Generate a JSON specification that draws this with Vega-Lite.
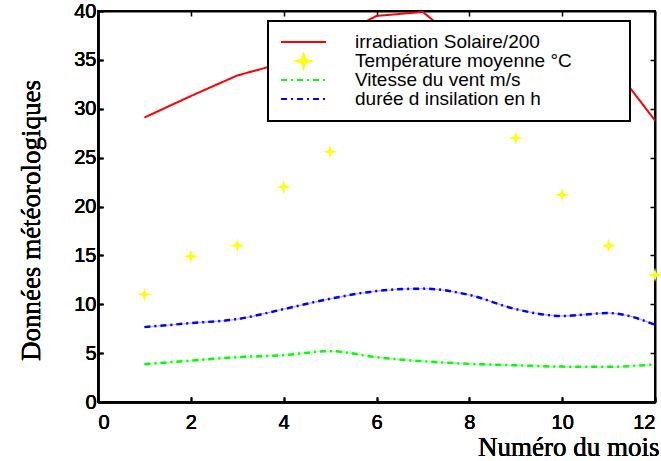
{
  "$schema": "https://vega.github.io/schema/vega-lite/v6.json",
  "width": 557,
  "height": 391,
  "autosize": {"type": "none"},
  "padding": {"left": 98, "top": 11, "right": 6, "bottom": 59},
  "background": "white",
  "config": {
    "view": {"stroke": "black", "strokeWidth": 2},
    "axis": {
      "domainColor": "black", "domainWidth": 2, "tickColor": "black", "tickWidth": 1.5,
      "tickSize": -5, "grid": false,
      "labelFont": "Liberation Sans", "labelFontSize": 20, "labelColor": "black",
      "titleFont": "Liberation Serif", "titleFontSize": 27, "titleFontWeight": "normal", "titleColor": "black"
    },
    "legend": {
      "padding": 12, "strokeColor": "black", "fillColor": "white",
      "symbolSize": 2025, "clipHeight": 18, "rowPadding": 0,
      "symbolStrokeWidth": 2, "labelOffset": 28, "symbolOffset": 0,
      "labelFont": "Liberation Sans", "labelFontSize": 19, "labelColor": "black", "labelLimit": 0,
      "titleOrient": "right", "titlePadding": 46, "titleFontSize": 19, "titleFont": "Liberation Sans"
    }
  },
  "data": {"values": [
    {"mois": 1, "serie": "irradiation Solaire/200", "valeur": 29.1},
    {"mois": 2, "serie": "irradiation Solaire/200", "valeur": 31.3},
    {"mois": 3, "serie": "irradiation Solaire/200", "valeur": 33.4},
    {"mois": 4, "serie": "irradiation Solaire/200", "valeur": 34.7},
    {"mois": 5, "serie": "irradiation Solaire/200", "valeur": 37.0},
    {"mois": 6, "serie": "irradiation Solaire/200", "valeur": 39.5},
    {"mois": 7, "serie": "irradiation Solaire/200", "valeur": 39.9},
    {"mois": 8, "serie": "irradiation Solaire/200", "valeur": 36.0},
    {"mois": 9, "serie": "irradiation Solaire/200", "valeur": 35.7},
    {"mois": 10, "serie": "irradiation Solaire/200", "valeur": 35.4},
    {"mois": 11, "serie": "irradiation Solaire/200", "valeur": 35.0},
    {"mois": 12, "serie": "irradiation Solaire/200", "valeur": 28.8},
    {"mois": 1, "serie": "Température moyenne °C", "valeur": 11.0},
    {"mois": 2, "serie": "Température moyenne °C", "valeur": 14.9},
    {"mois": 3, "serie": "Température moyenne °C", "valeur": 16.0},
    {"mois": 4, "serie": "Température moyenne °C", "valeur": 22.0},
    {"mois": 5, "serie": "Température moyenne °C", "valeur": 25.6},
    {"mois": 6, "serie": "Température moyenne °C", "valeur": 29.8},
    {"mois": 7, "serie": "Température moyenne °C", "valeur": 31.5},
    {"mois": 8, "serie": "Température moyenne °C", "valeur": 31.0},
    {"mois": 9, "serie": "Température moyenne °C", "valeur": 27.0},
    {"mois": 10, "serie": "Température moyenne °C", "valeur": 21.2},
    {"mois": 11, "serie": "Température moyenne °C", "valeur": 16.0},
    {"mois": 12, "serie": "Température moyenne °C", "valeur": 13.0},
    {"mois": 1, "serie": "Vitesse du vent m/s", "valeur": 3.87},
    {"mois": 2, "serie": "Vitesse du vent m/s", "valeur": 4.24},
    {"mois": 3, "serie": "Vitesse du vent m/s", "valeur": 4.58},
    {"mois": 4, "serie": "Vitesse du vent m/s", "valeur": 4.79},
    {"mois": 5, "serie": "Vitesse du vent m/s", "valeur": 5.2},
    {"mois": 6, "serie": "Vitesse du vent m/s", "valeur": 4.58},
    {"mois": 7, "serie": "Vitesse du vent m/s", "valeur": 4.17},
    {"mois": 8, "serie": "Vitesse du vent m/s", "valeur": 3.9},
    {"mois": 9, "serie": "Vitesse du vent m/s", "valeur": 3.75},
    {"mois": 10, "serie": "Vitesse du vent m/s", "valeur": 3.62},
    {"mois": 11, "serie": "Vitesse du vent m/s", "valeur": 3.6},
    {"mois": 12, "serie": "Vitesse du vent m/s", "valeur": 3.85},
    {"mois": 1, "serie": "durée d insilation en h", "valeur": 7.66},
    {"mois": 2, "serie": "durée d insilation en h", "valeur": 8.07},
    {"mois": 3, "serie": "durée d insilation en h", "valeur": 8.48},
    {"mois": 4, "serie": "durée d insilation en h", "valeur": 9.5},
    {"mois": 5, "serie": "durée d insilation en h", "valeur": 10.56},
    {"mois": 6, "serie": "durée d insilation en h", "valeur": 11.35},
    {"mois": 7, "serie": "durée d insilation en h", "valeur": 11.6},
    {"mois": 8, "serie": "durée d insilation en h", "valeur": 10.95},
    {"mois": 9, "serie": "durée d insilation en h", "valeur": 9.5},
    {"mois": 10, "serie": "durée d insilation en h", "valeur": 8.8},
    {"mois": 11, "serie": "durée d insilation en h", "valeur": 9.1},
    {"mois": 12, "serie": "durée d insilation en h", "valeur": 7.9}
  ]},
  "encoding": {
    "x": {
      "field": "mois", "type": "quantitative",
      "scale": {"domain": [0, 12], "nice": false, "zero": false},
      "axis": {
        "orient": "bottom", "values": [0, 2, 4, 6, 8, 10, 12], "labelPadding": 15,
        "title": "Numéro du mois", "titleX": 561, "titleY": 53, "titleAlign": "right",
        "titleBaseline": "alphabetic", "titleAnchor": null
      }
    },
    "y": {
      "field": "valeur", "type": "quantitative",
      "scale": {"domain": [0, 40], "nice": false},
      "axis": {
        "orient": "left", "values": [0, 5, 10, 15, 20, 25, 30, 35, 40], "labelPadding": 7,
        "title": "Données météorologiques", "titleX": -59, "titleY": 209, "titleAngle": 270,
        "titleAlign": "center", "titleBaseline": "alphabetic", "titleAnchor": null
      }
    }
  },
  "layer": [
    {
      "transform": [{"filter": "datum.serie === 'Vitesse du vent m/s'"}],
      "mark": {"type": "line", "interpolate": "monotone", "color": "#00FF00", "opacity": 0.3, "strokeWidth": 1.3}
    },
    {
      "transform": [{"filter": "datum.serie === 'durée d insilation en h'"}],
      "mark": {"type": "line", "interpolate": "monotone", "color": "#0000FF", "opacity": 0.3, "strokeWidth": 1.3}
    },
    {
      "transform": [{"filter": "datum.serie === 'Vitesse du vent m/s' || datum.serie === 'durée d insilation en h'"}],
      "mark": {"type": "line", "interpolate": "monotone", "strokeWidth": 2.5},
      "encoding": {
        "color": {"field": "serie", "type": "nominal",
          "scale": {"domain": ["irradiation Solaire/200", "Température moyenne °C", "Vitesse du vent m/s", "durée d insilation en h"], "range": ["#FF0000", "#FFFF00", "#00FF00", "#0000FF"]},
          "legend": {"orient": "none", "legendX": 170, "legendY": 10, "title": "\u00a0",
            "encode": {"legend": {"update": {"strokeWidth": {"value": 2}}}}}},
        "strokeDash": {"field": "serie", "type": "nominal",
          "scale": {"domain": ["irradiation Solaire/200", "Température moyenne °C", "Vitesse du vent m/s", "durée d insilation en h"], "range": [[1, 0], [1, 0], [6, 4, 2, 4], [6, 4, 2, 4]]},
          "legend": {"orient": "none", "legendX": 170, "legendY": 10, "title": "\u00a0"}}
      }
    },
    {
      "transform": [{"filter": "datum.serie === 'irradiation Solaire/200'"}],
      "mark": {"type": "line", "strokeWidth": 2},
      "encoding": {
        "color": {"field": "serie", "type": "nominal",
          "scale": {"domain": ["irradiation Solaire/200", "Température moyenne °C", "Vitesse du vent m/s", "durée d insilation en h"], "range": ["#FF0000", "#FFFF00", "#00FF00", "#0000FF"]},
          "legend": {"orient": "none", "legendX": 170, "legendY": 10, "title": "\u00a0",
            "encode": {"legend": {"update": {"strokeWidth": {"value": 2}}}}}},
        "strokeDash": {"field": "serie", "type": "nominal",
          "scale": {"domain": ["irradiation Solaire/200", "Température moyenne °C", "Vitesse du vent m/s", "durée d insilation en h"], "range": [[1, 0], [1, 0], [6, 4, 2, 4], [6, 4, 2, 4]]},
          "legend": {"orient": "none", "legendX": 170, "legendY": 10, "title": "\u00a0"}}
      }
    },
    {
      "transform": [{"filter": "datum.serie === 'Température moyenne °C'"}],
      "mark": {"type": "point", "filled": true, "size": 2025, "strokeWidth": 1.5, "opacity": 1},
      "encoding": {
        "x": {
          "field": "mois", "type": "quantitative",
          "scale": {"domain": [0, 12], "nice": false, "zero": false},
          "axis": {"orient": "top", "values": [0, 2, 4, 6, 8, 10, 12], "labels": false, "title": null}
        },
        "y": {
          "field": "valeur", "type": "quantitative",
          "scale": {"domain": [0, 40], "nice": false},
          "axis": {"orient": "right", "values": [0, 5, 10, 15, 20, 25, 30, 35, 40], "labels": false, "title": null}
        },
        "color": {"field": "serie", "type": "nominal",
          "scale": {"domain": ["irradiation Solaire/200", "Température moyenne °C", "Vitesse du vent m/s", "durée d insilation en h"], "range": ["#FF0000", "#FFFF00", "#00FF00", "#0000FF"]},
          "legend": {"orient": "none", "legendX": 170, "legendY": 10, "title": "\u00a0",
            "encode": {"legend": {"update": {"strokeWidth": {"value": 2}}}}}},
        "shape": {"field": "serie", "type": "nominal",
          "scale": {"domain": ["irradiation Solaire/200", "Température moyenne °C", "Vitesse du vent m/s", "durée d insilation en h"],
            "range": ["stroke", "M0,-0.32L0.06,-0.09L0.1,-0.06L0.32,0L0.1,0.06L0.06,0.09L0,0.32L-0.06,0.09L-0.1,0.06L-0.32,0L-0.1,-0.06L-0.06,-0.09Z", "stroke", "stroke"]},
          "legend": {"orient": "none", "legendX": 170, "legendY": 10, "title": "\u00a0"}}
      }
    }
  ]
}
